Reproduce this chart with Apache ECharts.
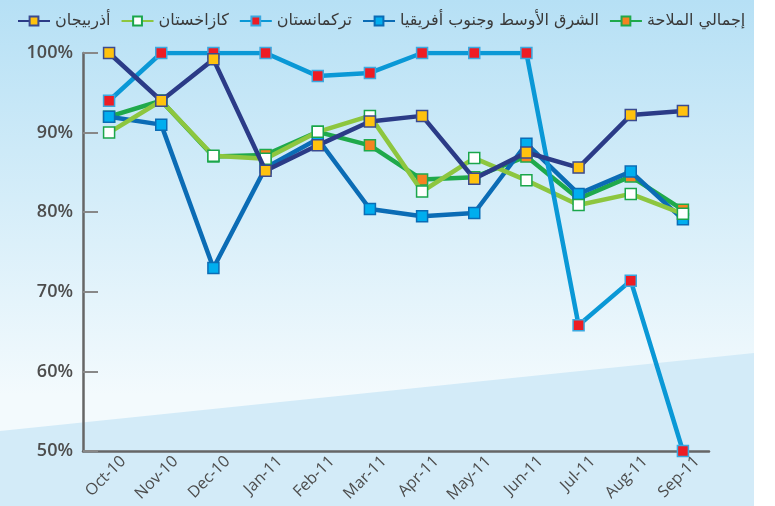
<!DOCTYPE html>
<html><head><meta charset="utf-8">
<script src="https://cdn.jsdelivr.net/npm/echarts@6/dist/echarts.min.js"></script>
<style>html,body{margin:0;padding:0;background:#fff}#c{width:775px;height:506px}</style>
</head><body><div id="c"></div>
<script>
const categories = ['Oct-10','Nov-10','Dec-10','Jan-11','Feb-11','Mar-11','Apr-11','May-11','Jun-11','Jul-11','Aug-11','Sep-11'];
const yTicks = ['50%','60%','70%','80%','90%','100%'];
const names = ['أذربيجان','كازاخستان','تركمانستان','الشرق الأوسط وجنوب أفريقيا','إجمالي الملاحة'];
const azerbaijan   = [100, 94, 99.2, 85.2, 88.4, 91.4, 92.1, 84.2, 87.5, 85.6, 92.2, 92.7];
const kazakhstan   = [90, 94, 87.1, 86.7, 90.1, 92.1, 82.6, 86.8, 84.0, 80.9, 82.3, 79.8];
const turkmenistan = [94, 100, 100, 100, 97.1, 97.5, 100, 100, 100, 65.8, 71.4, 50];
const mea          = [92, 91, 73, 85.6, 89.2, 80.4, 79.5, 79.9, 88.6, 82.3, 85.1, 79.1];
const total        = [92, 94, 87, 87.2, 90.1, 88.4, 84.1, 84.4, 87.0, 81.7, 84.5, 80.3];

const chart = echarts.init(document.getElementById('c'));
function mk(name, data, line, fill, border, z) {
  return {
    name, type: 'line', data, z,
    symbol: 'rect', symbolSize: 11,
    lineStyle: { color: line, width: 4.5 },
    itemStyle: { color: fill, borderColor: border, borderWidth: 1.5 },
    emphasis: { disabled: true }
  };
}
chart.setOption({
  animation: false,
  textStyle: { fontFamily: 'Open Sans' },
  graphic: [
    { type: 'rect', z: -10, silent: true, shape: { x: 0, y: 0, width: 754, height: 506 },
      style: { fill: new echarts.graphic.LinearGradient(0, 0, 0, 1, [
        { offset: 0, color: '#b6e0f5' }, { offset: 0.78, color: '#f3fafd' }, { offset: 1, color: '#f3fafd' }]) } },
    { type: 'polygon', z: -9, silent: true, shape: { points: [[0, 431], [754, 353], [754, 506], [0, 506]] },
      style: { fill: '#d3ebf8' } }
  ],
  grid: { left: 83, right: 66, top: 53, bottom: 55, containLabel: false },
  legend: {
    data: names, top: 8, left: 12, itemGap: 10, itemWidth: 32, itemHeight: 11, align: 'left',
    textStyle: { fontFamily: 'DejaVu Sans', fontSize: 16, color: '#3a3a3a' }
  },
  xAxis: {
    type: 'category', data: categories, boundaryGap: true,
    axisLine: { lineStyle: { color: '#666', width: 2.5 } },
    axisTick: { inside: true, length: 8, lineStyle: { color: '#888', width: 2 } },
    axisLabel: { rotate: 45, color: '#4d4d4d', fontSize: 16, margin: 22,
      padding: [0, -20, 0, 0] }
  },
  yAxis: {
    type: 'value', min: 50, max: 100, interval: 10,
    axisLine: { show: true, lineStyle: { color: '#666', width: 2.5 } },
    axisTick: { show: true, inside: true, length: 15, lineStyle: { color: '#888', width: 2 } },
    splitLine: { show: false },
    axisLabel: { color: '#4d4d4d', fontSize: 18, fontWeight: 600, margin: 10,
      formatter: v => yTicks[Math.round((v - 50) / 10)] }
  },
  series: [
    mk(names[4], total, '#1fa94b', '#f58220', '#1fa94b', 2),
    mk(names[3], mea, '#0b6cb5', '#00aeef', '#0b6cb5', 3),
    mk(names[1], kazakhstan, '#8dc63f', '#ffffff', '#1aa64b', 4),
    mk(names[2], turkmenistan, '#0a98d6', '#ed1c24', '#3aa8e0', 5),
    mk(names[0], azerbaijan, '#2b3b87', '#ffc20e', '#3b4a8f', 6)
  ]
});
</script></body></html>
